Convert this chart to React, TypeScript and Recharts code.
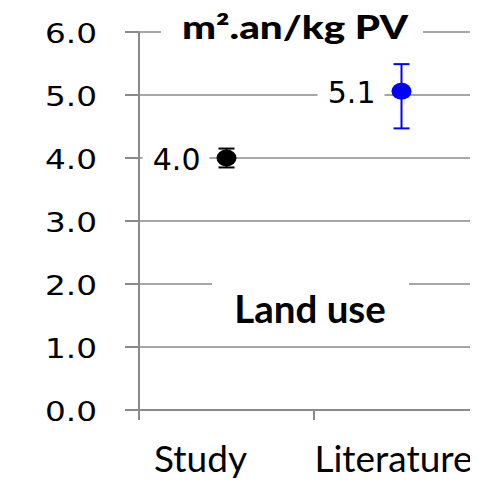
import React from 'react';
import {
  ScatterChart,
  Scatter,
  XAxis,
  YAxis,
  CartesianGrid,
  ErrorBar,
  Customized
} from 'recharts';

// values
const categories = ['Study', 'Literature'];
const values = [4.0, 5.06];
const errLow = [0.15, 0.59];
const errHigh = [0.15, 0.43];
const colors = ['#000000', '#0000FF'];
const yTicks = [0, 1, 2, 3, 4, 5, 6];
const unitTitle = 'm².an/kg PV';
const panelTitle = 'Land use';

const CHART_W = 490;
const CHART_H = 473;
const Y_W = 131;
const MARGIN = { top: 24, right: 9, bottom: 0, left: 0 };
const BAND = (CHART_W - Y_W - MARGIN.right - MARGIN.left) / categories.length;
const GRID = '#8a8a8a';

const series = categories.map((name, i) => ({
  name,
  color: colors[i],
  data: [{ x: i + 0.5, value: values[i], err: [errLow[i], errHigh[i]] }]
}));

const YTick = (props: any) => {
  const { x, y, payload } = props;
  return (
    <text
      x={x}
      y={y + 2}
      textAnchor="end"
      dominantBaseline="central"
      fontFamily="'DejaVu Sans', Verdana, sans-serif"
      fontSize={26}
      fill="#000"
      textLength={52}
      lengthAdjust="spacingAndGlyphs"
    >
      {Number(payload.value).toFixed(1)}
    </text>
  );
};

const labelShift = [-26, -8];

const XTick = (props: any) => {
  const { x, y, payload } = props;
  const i = Number(payload.value);
  if (i >= categories.length) return null;
  return (
    <text
      x={x + BAND / 2 + labelShift[i]}
      y={y + 50}
      textAnchor="middle"
      fontFamily="Lato, 'Open Sans', sans-serif"
      fontSize={37}
      fill="#000"
    >
      {categories[i]}
    </text>
  );
};

const PointShape = (props: any) => {
  const { cx, cy, payload, fill } = props;
  return (
    <g>
      <rect x={cx - 84} y={cy - 15} width={67} height={30} fill="#fff" />
      <text
        x={cx - 26}
        y={cy + 1}
        textAnchor="end"
        dominantBaseline="central"
        fontFamily="'DejaVu Sans', Verdana, sans-serif"
        fontSize={30}
        fill="#000"
      >
        {payload.value.toFixed(1)}
      </text>
      <ellipse cx={cx} cy={cy} rx={10} ry={8.5} fill={fill} />
    </g>
  );
};

const Titles = () => (
  <g>
    <rect x={153} y={4} width={262} height={38} fill="#fff" />
    <text
      x={287}
      y={31}
      textAnchor="middle"
      fontFamily="Lato, 'Open Sans', sans-serif"
      fontWeight={900}
      fontSize={32}
      fill="#000"
      textLength={226}
      lengthAdjust="spacingAndGlyphs"
    >
      {unitTitle}
    </text>
    <rect x={204} y={264} width={197} height={58} fill="#fff" />
    <text
      x={302}
      y={315}
      textAnchor="middle"
      fontFamily="Lato, 'Open Sans', sans-serif"
      fontWeight="bold"
      fontSize={38.5}
      fill="#000"
    >
      {panelTitle}
    </text>
  </g>
);

const App: React.FC = () => {
  return (
    <div style={{ width: 470, height: CHART_H, overflow: 'hidden', background: '#fff' }}>
      <ScatterChart width={CHART_W} height={CHART_H} margin={MARGIN}>
        <CartesianGrid vertical={false} stroke={GRID} strokeWidth={1.5} />
        <XAxis
          type="number"
          dataKey="x"
          domain={[0, categories.length]}
          ticks={[0, 1, 2]}
          tickSize={10}
          height={CHART_H - MARGIN.top - 378}
          stroke={GRID}
          strokeWidth={2}
          tick={<XTick />}
          interval={0}
        />
        <YAxis
          type="number"
          dataKey="value"
          domain={[0, 6]}
          ticks={yTicks}
          width={Y_W}
          tickSize={14}
          tickMargin={28}
          stroke={GRID}
          strokeWidth={2}
          tick={<YTick />}
          interval={0}
        />
        <Customized component={Titles} />
        {series.map((s) => (
          <Scatter
            key={s.name}
            name={s.name}
            data={s.data}
            fill={s.color}
            shape={<PointShape />}
            isAnimationActive={false}
          >
            <ErrorBar
              dataKey="err"
              direction="y"
              width={8}
              stroke={s.color}
              strokeWidth={2}
              isAnimationActive={false}
            />
          </Scatter>
        ))}
      </ScatterChart>
    </div>
  );
};

export default App;
